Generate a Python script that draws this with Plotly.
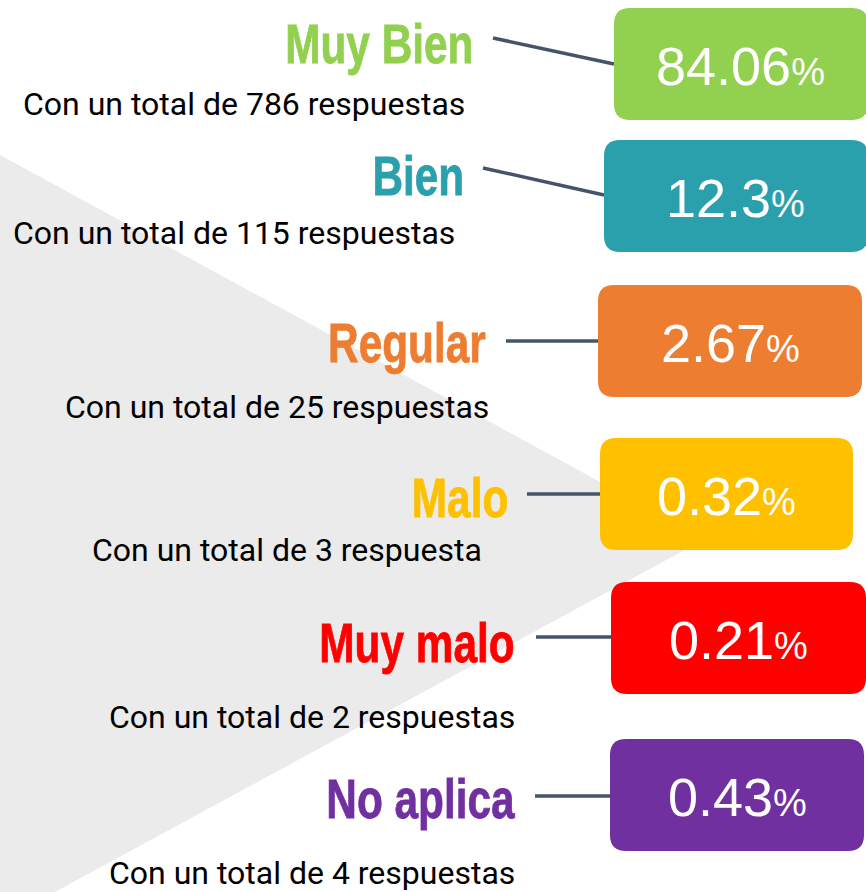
import json
import plotly.graph_objects as go

# ---- data ----
categories = ["Muy Bien", "Bien", "Regular", "Malo", "Muy malo", "No aplica"]
percentages = ["84.06", "12.3", "2.67", "0.32", "0.21", "0.43"]
counts = [786, 115, 25, 3, 2, 4]
count_words = ["respuestas", "respuestas", "respuestas", "respuesta", "respuestas", "respuestas"]

# ---- styles / layout positions (pixels in an 866x892 canvas) ----
colors = ["#92D050", "#2BA0AD", "#ED7D31", "#FFC000", "#FF0000", "#7030A0"]
box_x0 = [614, 604, 598, 600, 611, 610]
box_x1 = [868, 868, 862, 853, 866, 864]
box_y0 = [8, 140, 285, 438, 582, 739]
box_h = 112
label_xr = [475, 466, 488, 510, 517, 517]
label_y = [44, 176, 343, 498, 643, 799]
sub_xr = [467, 457, 491, 484, 517, 517]
sub_y = [104, 233, 407, 550, 717, 873]
line_pts = [((493, 38), (614, 64)), ((483, 168), (604, 195)), ((506, 341), (598, 341)),
            ((527, 494), (600, 494)), ((536, 637), (611, 637)), ((535, 796), (610, 796))]
label_condense = 0.77

W, H = 866, 892


def rounded_rect(x0, y0, x1, y1, r):
    return (f"M {x0+r},{y0} L {x1-r},{y0} Q {x1},{y0} {x1},{y0+r} "
            f"L {x1},{y1-r} Q {x1},{y1} {x1-r},{y1} L {x0+r},{y1} "
            f"Q {x0},{y1} {x0},{y1-r} L {x0},{y0+r} Q {x0},{y0} {x0+r},{y0} Z")


fig = go.Figure()
shapes = []
annotations = []

# grey background triangle
shapes.append(dict(type="path", path="M 0,155 L 705,539 L 55,892 L 0,892 Z",
                   fillcolor="#EBEBEB", line=dict(width=0), layer="below",
                   xref="x", yref="y"))

for i, cat in enumerate(categories):
    (ax, ay), (bx, by) = line_pts[i]
    shapes.append(dict(type="line", x0=ax, y0=ay, x1=bx, y1=by,
                       line=dict(color="#44546A", width=3.5), xref="x", yref="y"))
    y0 = box_y0[i]
    shapes.append(dict(type="path",
                       path=rounded_rect(box_x0[i], y0, box_x1[i], y0 + box_h, 16),
                       fillcolor=colors[i], line=dict(width=0), xref="x", yref="y"))
    cx = (box_x0[i] + min(box_x1[i], 866)) / 2
    annotations.append(dict(
        x=cx, y=y0 + box_h / 2 + 2, xref="x", yref="y", showarrow=False,
        xanchor="center", yanchor="middle",
        text=f"{percentages[i]}<span style='font-size:38px'>%</span>",
        font=dict(family="Liberation Sans, Arial", size=54, color="white")))
    annotations.append(dict(
        x=label_xr[i], y=label_y[i], xref="x", yref="y", showarrow=False,
        xanchor="right", yanchor="middle", text=cat,
        font=dict(family="Liberation Sans, Arial", size=55, weight=700,
                  color=colors[i])))
    annotations.append(dict(
        x=sub_xr[i], y=sub_y[i], xref="x", yref="y", showarrow=False,
        xanchor="right", yanchor="middle",
        text=f"Con un total de {counts[i]} {count_words[i]}",
        font=dict(family="Roboto", size=32, color="black")))

fig.update_layout(
    width=W, height=H, margin=dict(l=0, r=0, t=0, b=0),
    paper_bgcolor="white", plot_bgcolor="white",
    xaxis=dict(range=[0, W], visible=False, fixedrange=True),
    yaxis=dict(range=[H, 0], visible=False, fixedrange=True),
    shapes=shapes, annotations=annotations, showlegend=False,
)

post = """
document.body.style.margin = '0';
var cats = %s;
var s = %f;
document.querySelectorAll('text.annotation-text').forEach(function(t){
  if (cats.indexOf(t.textContent) >= 0) {
    var bb = t.getBBox();
    var r = bb.x + bb.width;
    var ex = t.getAttribute('transform') || '';
    t.setAttribute('transform', ex + ' translate(' + r + ',0) scale(' + s + ',1) translate(' + (-r) + ',0)');
    t.style.stroke = t.style.fill;
    t.style.strokeWidth = '0.8px';
  }
});
""" % (json.dumps(categories), label_condense)

fig.write_html("out.html", config={"displayModeBar": False}, post_script=post)
